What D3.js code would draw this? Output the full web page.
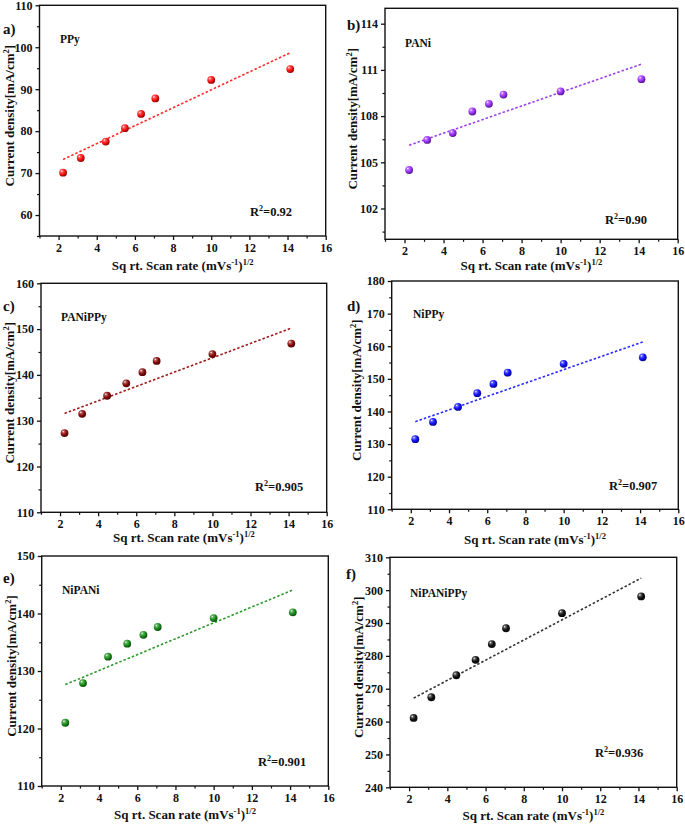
<!DOCTYPE html>
<html>
<head>
<meta charset="utf-8">
<script src="https://cdn.jsdelivr.net/npm/d3@7/dist/d3.min.js"></script>
<style>
  html, body { margin: 0; padding: 0; background: #fff; }
  svg { display: block; }
  text { font-family: "Liberation Serif", "Times New Roman", serif; font-weight: bold; fill: #111; }
</style>
</head>
<body>
<svg id="chart" width="685" height="825"></svg>
<script>
// ---------- data ----------
const sqrtScanRate = [2.236, 3.162, 4.472, 5.477, 6.325, 7.071, 10.0, 14.142];
const ppy       = [70.1, 73.6, 77.5, 80.7, 84.1, 87.8, 92.2, 94.8];
const pani      = [104.5, 106.45, 106.9, 108.3, 108.8, 109.4, 109.6, 110.4];
const panippy   = [127.3, 131.5, 135.45, 138.15, 140.6, 143.05, 144.55, 146.85];
const nippy     = [131.5, 136.8, 141.4, 145.6, 148.45, 151.9, 154.6, 156.6];
const nipani    = [121.0, 127.9, 132.5, 134.75, 136.3, 137.65, 139.2, 140.2];
const nipanippy = [261.1, 267.4, 274.1, 278.8, 283.6, 288.4, 293.0, 298.1];

const seriesNames = ["PPy", "PANi", "PANiPPy", "NiPPy", "NiPANi", "NiPANiPPy"];
const panelLetters = ["a)", "b)", "c)", "d)", "e)", "f)"];
const r2Labels = ["0.92", "0.90", "0.905", "0.907", "0.901", "0.936"];
const xTicks = [2, 4, 6, 8, 10, 12, 14, 16];
const xDomain = [1, 16];
const yDomains = [[55, 110], [100, 115], [110, 160], [110, 180], [110, 150], [240, 310]];
const yTicksA = [60, 70, 80, 90, 100, 110];
const yTicksB = [102, 105, 108, 111, 114];
const yTicksC = [110, 120, 130, 140, 150, 160];
const yTicksD = [110, 120, 130, 140, 150, 160, 170, 180];
const yTicksE = [110, 120, 130, 140, 150];
const yTicksF = [240, 250, 260, 270, 280, 290, 300, 310];
const seriesValues = [ppy, pani, panippy, nippy, nipani, nipanippy];
const yTickSets = [yTicksA, yTicksB, yTicksC, yTicksD, yTicksE, yTicksF];

// ---------- layout / style ----------
const colors = ["#ff1010", "#9b30ff", "#8b0a0a", "#1010ff", "#1a8f1a", "#111111"];
const lineColors = ["#ff2a2a", "#9b40f0", "#a01818", "#2a2aff", "#2a9a2a", "#333333"];
const frames = [
  {l: 39.5, r: 325.7, t: 5.3,   b: 236},
  {l: 385,  r: 677.7, t: 8.3,   b: 239.3},
  {l: 41,   r: 326.7, t: 283.3, b: 512.3},
  {l: 391.7,r: 678.3, t: 281,   b: 509.3},
  {l: 41.7, r: 328.3, t: 556,   b: 786},
  {l: 390,  r: 676.7, t: 557.3, b: 787.3}
];
const letterPos = [[3, 34], [347, 30], [3, 311], [347, 311], [3, 583], [346, 579]];
const namePos = [[60, 43], [405, 47], [61, 321], [413, 318], [62, 594], [410, 597]];
const r2Pos = [[250, 216], [605, 224], [255, 491], [609, 490], [258, 766], [595, 757]];
const yTitleOff = [30, 32, 31, 35, 30, 31];
const xTitleOff = [34, 31, 30, 35, 33, 33];

const svg = d3.select("#chart");
const defs = svg.append("defs");

colors.forEach((c, i) => {
  const g = defs.append("radialGradient").attr("id", "ball" + i)
    .attr("cx", "38%").attr("cy", "35%").attr("r", "65%").attr("fx", "32%").attr("fy", "30%");
  g.append("stop").attr("offset", "0%").attr("stop-color", "#ffffff");
  g.append("stop").attr("offset", "22%").attr("stop-color", d3.interpolateRgb(c, "#fff")(0.35));
  g.append("stop").attr("offset", "60%").attr("stop-color", c);
  g.append("stop").attr("offset", "100%").attr("stop-color", d3.interpolateRgb(c, "#000")(0.45));
});

function linFit(xs, ys) {
  const mx = d3.mean(xs), my = d3.mean(ys);
  let sxy = 0, sxx = 0;
  xs.forEach((x, i) => { sxy += (x - mx) * (ys[i] - my); sxx += (x - mx) * (x - mx); });
  const m = sxy / sxx;
  return x => my + m * (x - mx);
}

frames.forEach((f, i) => {
  const g = svg.append("g");
  const x = d3.scaleLinear().domain(xDomain).range([f.l, f.r]);
  const y = d3.scaleLinear().domain(yDomains[i]).range([f.b, f.t]);
  const vals = seriesValues[i];
  const yt = yTickSets[i];
  const step = yt[1] - yt[0];

  const yMinor = [];
  for (let v = yt[0] - step / 2; v <= yDomains[i][1] + 1e-9; v += step) {
    if (v >= yDomains[i][0] - 1e-9) yMinor.push(v);
  }
  const xMinor = d3.range(1, 16, 2);

  const xAxis = d3.axisBottom(x).tickValues(xTicks).tickSize(4).tickPadding(3).tickFormat(d3.format("d"));
  const gx = g.append("g").attr("transform", `translate(0,${f.b})`).call(xAxis);
  gx.select(".domain").remove();
  gx.selectAll(".tick line").attr("stroke", "#111").attr("stroke-width", 1.3);
  gx.selectAll(".tick text").attr("font-size", 12).attr("font-family", "Liberation Serif, serif").attr("font-weight", "bold").attr("fill", "#111");
  g.append("g").attr("transform", `translate(0,${f.b})`)
    .call(d3.axisBottom(x).tickValues(xMinor).tickSize(2.5).tickFormat(""))
    .call(s => { s.select(".domain").remove(); s.selectAll("line").attr("stroke", "#111").attr("stroke-width", 1.2); });

  const yAxis = d3.axisLeft(y).tickValues(yt).tickSize(4).tickPadding(3).tickFormat(d3.format("d"));
  const gy = g.append("g").attr("transform", `translate(${f.l},0)`).call(yAxis);
  gy.select(".domain").remove();
  gy.selectAll(".tick line").attr("stroke", "#111").attr("stroke-width", 1.3);
  gy.selectAll(".tick text").attr("font-size", 12).attr("font-family", "Liberation Serif, serif").attr("font-weight", "bold").attr("fill", "#111");
  g.append("g").attr("transform", `translate(${f.l},0)`)
    .call(d3.axisLeft(y).tickValues(yMinor).tickSize(2.5).tickFormat(""))
    .call(s => { s.select(".domain").remove(); s.selectAll("line").attr("stroke", "#111").attr("stroke-width", 1.2); });

  g.append("rect").attr("x", f.l).attr("y", f.t).attr("width", f.r - f.l).attr("height", f.b - f.t)
    .attr("fill", "none").attr("stroke", "#111").attr("stroke-width", 1.4);

  const fit = linFit(sqrtScanRate, vals);
  const x0 = d3.min(sqrtScanRate), x1 = d3.max(sqrtScanRate);
  g.append("line")
    .attr("x1", x(x0)).attr("y1", y(fit(x0)))
    .attr("x2", x(x1)).attr("y2", y(fit(x1)))
    .attr("stroke", lineColors[i]).attr("stroke-width", 1.6).attr("stroke-dasharray", "2.5,2");

  g.selectAll("circle.pt").data(vals).join("circle").attr("class", "pt")
    .attr("cx", (d, j) => x(sqrtScanRate[j])).attr("cy", d => y(d)).attr("r", 3.9)
    .attr("fill", `url(#ball${i})`);

  g.append("text").attr("x", letterPos[i][0]).attr("y", letterPos[i][1]).attr("font-size", 15).text(panelLetters[i]);
  g.append("text").attr("x", namePos[i][0]).attr("y", namePos[i][1]).attr("font-size", 11.5).text(seriesNames[i]);
  const r2 = g.append("text").attr("x", r2Pos[i][0]).attr("y", r2Pos[i][1]).attr("font-size", 12.5);
  r2.append("tspan").text("R");
  r2.append("tspan").attr("font-size", 8).attr("dy", -5).text("2");
  r2.append("tspan").attr("dy", 5).text("=" + r2Labels[i]);

  const xt = g.append("text").attr("x", (f.l + f.r) / 2).attr("y", f.b + xTitleOff[i])
    .attr("text-anchor", "middle").attr("font-size", 13);
  xt.append("tspan").text("Sq rt. Scan rate (mVs");
  xt.append("tspan").attr("font-size", 8.5).attr("dy", -5).text("-1");
  xt.append("tspan").attr("dy", 5).text(")");
  xt.append("tspan").attr("font-size", 8.5).attr("dy", -5).text("1/2");

  const cy = (f.t + f.b) / 2 - 5;
  const ytl = g.append("text").attr("transform", `translate(${f.l - yTitleOff[i] + 4},${cy}) rotate(-90)`)
    .attr("text-anchor", "middle").attr("font-size", 13);
  ytl.append("tspan").text("Current density[mA/cm");
  ytl.append("tspan").attr("font-size", 8.5).attr("dy", -5).text("2");
  ytl.append("tspan").attr("dy", 5).text("]");
});
</script>
</body>
</html>
